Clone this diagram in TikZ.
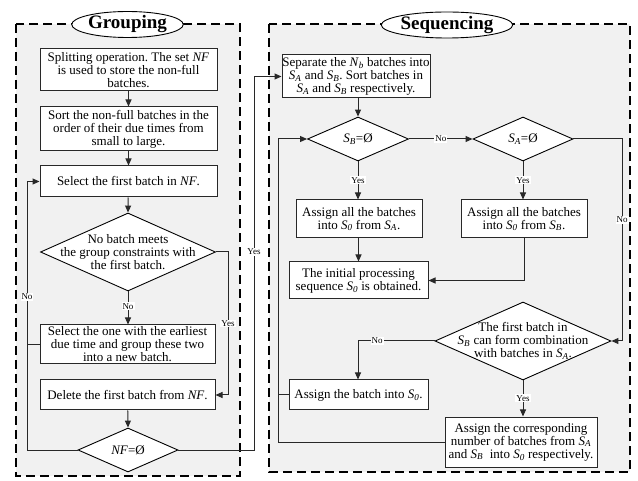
\documentclass[tikz,border=0pt]{standalone}
\usepackage{fontspec}
\setmainfont{Liberation Serif}
\usetikzlibrary{shapes.geometric,arrows.meta}
\definecolor{bgray}{RGB}{241,241,241}
\definecolor{lcol}{RGB}{40,40,40}
\newcommand\SubV[2]{\textit{#1}\textsubscript{\textit{#2}}}
\frenchspacing
\begin{document}
\begin{tikzpicture}[x=1pt,y=-1pt,
  frame/.style={draw=black,fill=bgray,line width=1.5pt,dash pattern=on 9pt off 5pt},
  ttl/.style={ellipse,draw=black,fill=white,line width=0.9pt,inner sep=0pt,font=\fontsize{19}{22}\selectfont\bfseries},
  box/.style={draw=lcol,fill=white,line width=1pt,align=center,inner sep=0pt,font=\fontsize{13}{13}\selectfont},
  dia/.style={diamond,draw=black,fill=white,line width=0.9pt,inner sep=0pt},
  dtxt/.style={align=center,inner sep=0pt,font=\fontsize{13}{13}\selectfont},
  conn/.style={draw=lcol,line width=1pt},
  arr/.style={conn,-{Triangle[length=7pt,width=6pt]}},
  lbl/.style={fill=white,inner sep=1pt,font=\fontsize{9}{10}\selectfont}]
\useasboundingbox (0,0) rectangle (638,481);
% frames
\path[frame] (16,24) rectangle (240,476);
\path[frame] (269,24) rectangle (630,472);
\node[ttl,minimum width=109pt,minimum height=26pt] (tg) at (127.5,24.5) {Grouping};
\node[ttl,minimum width=104pt,minimum height=26pt] (ts) at (447,25) {Sequencing};
% Grouping nodes
\node[box,minimum width=177pt,minimum height=42pt] (b1) at (128.5,70) {Splitting operation. The set \textit{NF}\\ is used to store the non-full\\ batches.};
\node[box,minimum width=177pt,minimum height=44pt] (b2) at (128.5,129) {Sort the non-full batches in the\\ order of their due times from\\ small to large.};
\node[box,minimum width=177pt,minimum height=31pt] (b3) at (128.5,181.5) {Select the first batch in \textit{NF}.};
\node[dia,minimum width=175pt,minimum height=78pt] (d1) at (128,252) {};
\node[dtxt] (d1t) at (d1) {No batch meets\\ the group constraints with\\ the first batch.};
\node[box,minimum width=175pt,minimum height=39pt] (b4) at (127.5,344.5) {Select the one with the earliest\\ due time and group these two\\ into a new batch.};
\node[box,minimum width=175pt,minimum height=30pt] (b5) at (127.5,395) {Delete the first batch from \textit{NF}.};
\node[dia,minimum width=100pt,minimum height=44pt] (d2) at (128,450) {};
\node[dtxt] (d2t) at (d2) {\textit{NF}=Ø};
% Sequencing nodes
\node[box,minimum width=148pt,minimum height=43pt] (s1) at (356,76.5) {Separate the \SubV{N}{b} batches into\\ \SubV{S}{A} and \SubV{S}{B}. Sort batches in\\ \SubV{S}{A} and \SubV{S}{B} respectively.};
\node[dia,minimum width=101pt,minimum height=44pt] (sb) at (358,139) {};
\node[dtxt] (sbt) at (sb) {\SubV{S}{B}=Ø};
\node[dia,minimum width=100pt,minimum height=44pt] (sa) at (523,139) {};
\node[dtxt] (sat) at (sa) {\SubV{S}{A}=Ø};
\node[box,minimum width=126pt,minimum height=38pt] (a1) at (359,219) {Assign all the batches\\ into \SubV{S}{0} from \SubV{S}{A}.};
\node[box,minimum width=126pt,minimum height=38pt] (a2) at (524,219) {Assign all the batches\\ into \SubV{S}{0} from \SubV{S}{B}.};
\node[box,minimum width=139pt,minimum height=37pt] (ini) at (358.5,280.5) {The initial processing\\ sequence \SubV{S}{0} is obtained.};
\node[dia,minimum width=176pt,minimum height=78pt] (d3) at (523,341) {};
\node[dtxt] (d3t) at (d3) {The first batch in\\ \SubV{S}{B} can form combination\\ with batches in \SubV{S}{A}.};
\node[box,minimum width=139pt,minimum height=30pt] (ab) at (358.5,395) {Assign the batch into \SubV{S}{0}.};
\node[box,minimum width=152pt,minimum height=50pt] (ac) at (521,442) {Assign the corresponding\\ number of batches from \SubV{S}{A}\\ and \SubV{S}{B}\ \ into \SubV{S}{0} respectively.};
% coordinates
\coordinate (gl) at (27,0);
\coordinate (gr) at (228,0);
\coordinate (gy) at (254,0);
\coordinate (sl) at (278,0);
\coordinate (sr) at (622,0);
% Grouping connectors
\draw[arr] (b1) -- (b2);
\draw[arr] (b2) -- (b3);
\draw[arr] (b3) -- (d1.north);
\draw[arr] (d1.south) -- node[lbl,pos=0.45]{No} (b4.north -| d1.south);
\draw[arr] (b5) -- (d2.north);
\draw[arr] (d2.west) -- (gl |- d2.west) -- node[lbl,pos=0.57]{No} (gl |- b3.west) -- (b3.west);
\draw[conn] (b4.west) -- (gl |- b4.west);
\draw[arr] (d1.east) -- (gr |- d1.east) -- node[lbl,pos=0.5]{Yes} (gr |- b5.east) -- (b5.east);
\draw[arr] (d2.east) -- (gy |- d2.east) -- node[lbl,pos=0.53]{Yes} (gy |- s1.west) -- (s1.west);
% Sequencing connectors
\draw[arr] (sb.north |- s1.south) -- (sb.north);
\draw[arr] (sb.east) -- node[lbl]{No} (sa.west);
\draw[arr] (sb.south) -- node[lbl]{Yes} (sb.south |- a1.north);
\draw[arr] (sa.south) -- node[lbl]{Yes} (sa.south |- a2.north);
\draw[arr] (ini.north |- a1.south) -- (ini.north);
\draw[arr] (a2.south) -- (a2.south |- ini.east) -- (ini.east);
\draw[arr] (sa.east) -- (sr |- sa.east) -- node[lbl,pos=0.4]{No} (sr |- d3.east) -- (d3.east);
\draw[arr] (d3.west) -- node[lbl,pos=0.75]{No} (sb.south |- d3.west) -- (sb.south |- ab.north);
\draw[arr] (d3.south) -- node[lbl]{Yes} (d3.south |- ac.north);
\draw[arr] (ac.west) -- (sl |- ac.west) -- (sl |- sb.west) -- (sb.west);
\draw[conn] (ab.west) -- (sl |- ab.west);
\end{tikzpicture}
\end{document}
